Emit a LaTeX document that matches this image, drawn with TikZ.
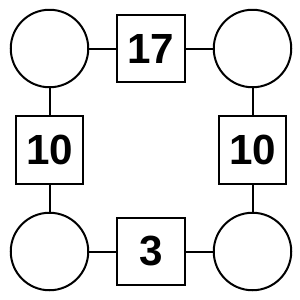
\documentclass[tikz,border=0pt]{standalone}
\usepackage{fontspec}
\setmainfont{Liberation Sans}
\usepackage{tikz}
\usetikzlibrary{positioning}
\tikzset{
  spot/.style={draw, circle, line width=0.04cm, minimum size=1.55cm, inner sep=0pt},
  numbox/.style={draw, rectangle, line width=0.04cm, minimum size=1.35cm, inner sep=0pt,
    font=\fontsize{24}{28}\selectfont\bfseries},
  link/.style={line width=0.04cm, black}
}

\begin{document}
\begin{tikzpicture}[node distance=0.54cm]
  \useasboundingbox (0,0) rectangle (6,-6);
  \node[spot] (tl) at (0.99,-0.97) {};
  \node[numbox, right=of tl] (top) {17};
  \node[spot, right=of top] (tr) {};
  \node[numbox, below=of tl] (lft) {10};
  \node[numbox, below=of tr] (rgt) {10};
  \node[spot, below=of lft] (bl) {};
  \node[numbox, right=of bl] (bot) {3};
  \node[spot, right=of bot] (br) {};
  \draw[link] (tl)--(top); \draw[link] (top)--(tr);
  \draw[link] (tl)--(lft); \draw[link] (lft)--(bl);
  \draw[link] (tr)--(rgt); \draw[link] (rgt)--(br);
  \draw[link] (bl)--(bot); \draw[link] (bot)--(br);
\end{tikzpicture}
\end{document}
